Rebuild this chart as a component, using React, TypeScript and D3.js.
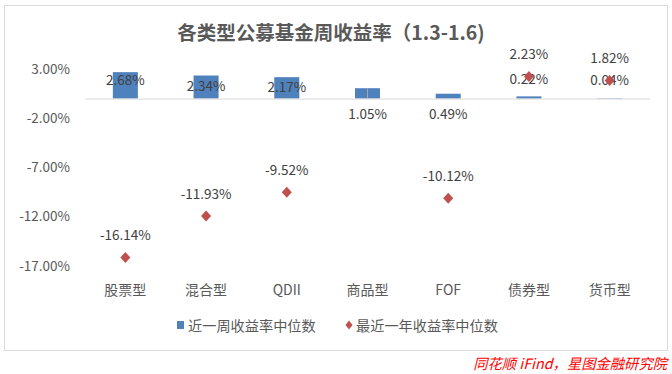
import React from 'react';
import * as d3 from 'd3';

// Data

const categories = ['股票型', '混合型', 'QDII', '商品型', 'FOF', '债券型', '货币型'];
const weekReturn = [2.68, 2.34, 2.17, 1.05, 0.49, 0.22, 0.04];
const yearReturn: (number | null)[] = [-16.14, -11.93, -9.52, null, -10.12, 2.23, 1.82];
const yTicks = [3, -2, -7, -12, -17];

// label nudges (px, relative to bar top) as placed in the original
const barLabelDy = [8, 11, 10, 26, 21, -17, -18];

const W = 672;
const H = 374;
const FONT = '"Noto Sans CJK SC", "Noto Sans", sans-serif';
const BLUE = '#4f81bd';
const RED = '#c0504d';
const TEXT = '#595959';

// Excel style percent, plain hyphen for negatives
const pct = (v: number) => d3.format('.2f')(v).replace('−', '-') + '%';

// fat diamond like Excel's marker
const diamondPath = (w: number, h: number) => `M0,${-h / 2}L${w / 2},0L0,${h / 2}L${-w / 2},0Z`;

function App() {
    const x = d3.scaleBand<string>().domain(categories).range([85, 650]);
    const y = d3.scaleLinear().domain([-17, 3]).range([266, 69]);
    const barW = x.bandwidth() * 0.31;
    const cx = (c: string) => (x(c) as number) + x.bandwidth() / 2;

    return (
        <svg width={W} height={H} style={{ position: 'fixed', left: 0, top: 0, background: '#fff' }} fontFamily={FONT}>
            <rect x={4.5} y={5.5} width={663} height={345} fill="#fff" stroke="#d9d9d9" />
            <text x={331} y={40} textAnchor="middle" fontSize={19.5} fontWeight="bold" fill={TEXT}>
                各类型公募基金周收益率（1.3-1.6)
            </text>

            {/* y axis labels */}
            {yTicks.map((t) => (
                <text key={t} x={70} y={y(t)} dy="0.35em" textAnchor="end" fontSize={13.5} fill={TEXT}>
                    {pct(t)}
                </text>
            ))}

            {/* bars */}
            {categories.map((c, i) => (
                <rect key={c} x={cx(c) - barW / 2} y={y(weekReturn[i])} width={barW}
                    height={y(0) - y(weekReturn[i])} fill={BLUE} />
            ))}
            {/* leader line for the 商品型 label */}
            <line x1={cx('商品型')} x2={cx('商品型')} y1={y(weekReturn[3])} y2={y(0)} stroke="#a6a6a6" strokeWidth={1} />

            {/* zero axis */}
            <line x1={85} x2={650} y1={y(0) + 0.5} y2={y(0) + 0.5} stroke="#d9d9d9" strokeWidth={1} />

            {/* bar labels */}
            {categories.map((c, i) => (
                <text key={c} x={cx(c)} y={y(weekReturn[i]) + barLabelDy[i]} dy="0.35em" textAnchor="middle"
                    fontSize={13.5} fill="#404040">
                    {pct(weekReturn[i])}
                </text>
            ))}

            {/* diamonds */}
            {categories.map((c, i) => {
                const v = yearReturn[i];
                if (v == null) return null;
                return (
                    <g key={c}>
                        <path d={diamondPath(10, 11)} transform={`translate(${cx(c)},${y(v)})`} fill={RED} />
                        <text x={cx(c)} y={y(v) - 22} dy="0.35em" textAnchor="middle" fontSize={13.5} fill="#404040">
                            {pct(v)}
                        </text>
                    </g>
                );
            })}

            {/* category labels */}
            {categories.map((c) => (
                <text key={c} x={cx(c)} y={295} textAnchor="middle" fontSize={14} fill={TEXT}>{c}</text>
            ))}

            {/* legend */}
            <rect x={177} y={321} width={7} height={8} fill={BLUE} />
            <text x={188} y={330.5} fontSize={14.2} fill={TEXT}>近一周收益率中位数</text>
            <path d={diamondPath(7, 9)} transform="translate(349,325)" fill={RED} />
            <text x={356} y={330.5} fontSize={14.2} fill={TEXT}>最近一年收益率中位数</text>

            <text x={667} y={369} textAnchor="end" fontSize={14.3} fontStyle="italic" fill="#ff0000">
                同花顺 iFind，星图金融研究院
            </text>
        </svg>
    );
}

export default App;
